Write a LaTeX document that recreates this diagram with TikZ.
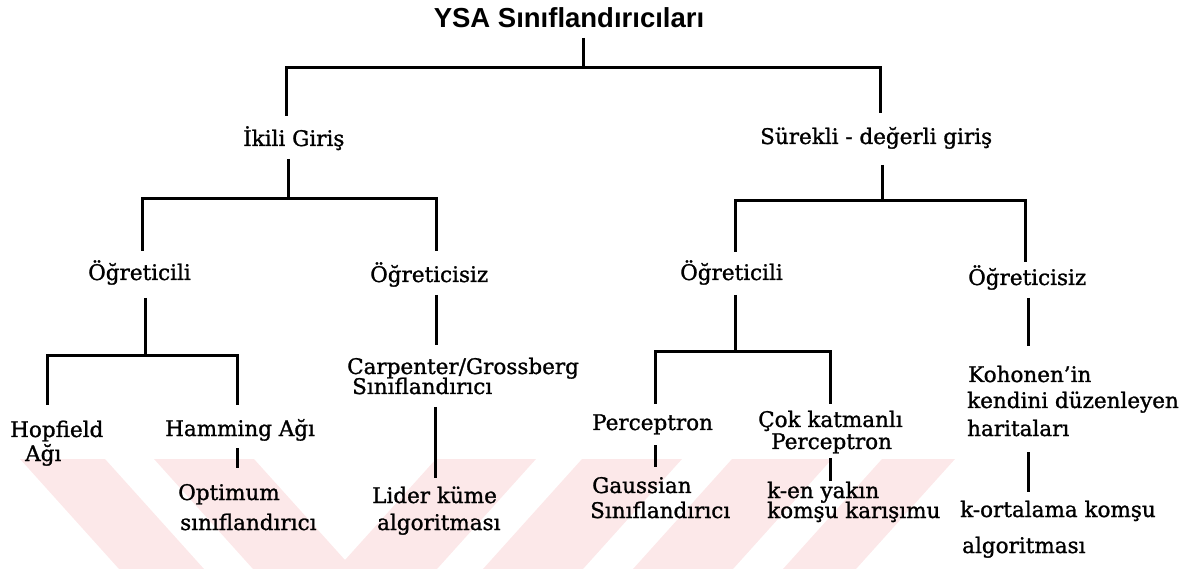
\documentclass[tikz,border=0pt]{standalone}
\usepackage{fontspec}
\setmainfont{DejaVu Serif}[FakeBold=1.2]
\newfontfamily\headfont{Liberation Sans}
\definecolor{wmpink}{RGB}{252,232,233}
\begin{document}
\begin{tikzpicture}[x=1pt,y=-1pt,
  lbl/.style={anchor=base west, inner sep=0pt, font=\fontsize{21.5}{24}\selectfont},
  headlbl/.style={anchor=base, inner sep=0pt, font=\headfont\bfseries\fontsize{27.5}{30}\selectfont},
  conn/.style={line width=3pt},
  band/.style={fill=wmpink, draw=none}]
\useasboundingbox (0,0) rectangle (1195,569);

% faint chevron watermark along the bottom
\fill[band] (20,459) -- (105,459) -- (204,569) -- (119,569) -- cycle;
\fill[band] (154,459) -- (254,459) -- (345,560) -- (436,459) -- (536,459)
  -- (437,569) -- (253,569) -- cycle;
\fill[band] (582,459) -- (682,459) -- (583,569) -- (483,569) -- cycle;
\fill[band] (732,459) -- (832,459) -- (733,569) -- (633,569) -- cycle;
\fill[band] (882,459) -- (955,459) -- (856,569) -- (783,569) -- cycle;

% labels
\node[headlbl] (root) at (569,28) {YSA Sınıflandırıcıları};
\node[lbl] (ikili) at (243,146) {İkili Giriş};
\node[lbl] (surekli) at (760,144) {Sürekli - değerli giriş};
\node[lbl] (ogrL) at (88,280) {Öğreticili};
\node[lbl] (ogrsizL) at (370,282) {Öğreticisiz};
\node[lbl] (ogrR) at (680,280) {Öğreticili};
\node[lbl] (ogrsizR) at (968,285) {Öğreticisiz};
\node[lbl] (carp) at (347,374) {Carpenter/Grossberg};
\node[lbl] (carpB) at (352,394) {Sınıflandırıcı};
\node[lbl] (hop) at (10,437) {Hopfield};
\node[lbl] (hopB) at (25,461) {Ağı};
\node[lbl] (ham) at (165,436) {Hamming Ağı};
\node[lbl] (opt) at (178,500) {Optimum};
\node[lbl] (optB) at (180,530) {sınıflandırıcı};
\node[lbl] (lid) at (372,503) {Lider küme};
\node[lbl] (lidB) at (377,530) {algoritması};
\node[lbl] (per) at (592,430) {Perceptron};
\node[lbl] (cok) at (758,427) {Çok katmanlı};
\node[lbl] (cokB) at (771,449) {Perceptron};
\node[lbl] (gau) at (592,493) {Gaussian};
\node[lbl] (gauB) at (590,518) {Sınıflandırıcı};
\node[lbl] (ken) at (767,498) {k-en yakın};
\node[lbl] (kenB) at (767,518) {komşu karışımu};
\node[lbl] (koh) at (968,382) {Kohonen'in};
\node[lbl] (kohB) at (967,408) {kendini düzenleyen};
\node[lbl] (kohC) at (967,436) {haritaları};
\node[lbl] (kor) at (960,517) {k-ortalama komşu};
\node[lbl] (korB) at (962,553) {algoritması};

% junction points of the tree
\coordinate (rootTop) at (583,38);
\coordinate (rootBar) at (583,68);
\coordinate (ikiliIn) at (286,116);
\coordinate (surekliIn) at (880,113);
\coordinate (ikiliOut) at (288,159);
\coordinate (ikiliBar) at (288,199);
\coordinate (ogrLIn) at (142,251);
\coordinate (ogrsizLIn) at (436,251);
\coordinate (surekliOut) at (882,165);
\coordinate (surekliBar) at (882,201);
\coordinate (ogrRIn) at (735,252);
\coordinate (ogrsizRIn) at (1025,262);
\coordinate (ogrLOut) at (145,298);
\coordinate (ogrLBar) at (145,356);
\coordinate (hopIn) at (47,405);
\coordinate (hamIn) at (237,405);
\coordinate (ogrsizLOut) at (436,295);
\coordinate (carpIn) at (436,345);
\coordinate (carpOut) at (435,407);
\coordinate (lidIn) at (435,478);
\coordinate (hamOut) at (237,448);
\coordinate (optIn) at (237,468);
\coordinate (ogrROut) at (735,295);
\coordinate (ogrRBar) at (735,352);
\coordinate (perIn) at (655,404);
\coordinate (cokIn) at (830,404);
\coordinate (perOut) at (655,445);
\coordinate (gauIn) at (655,467);
\coordinate (cokOut) at (830,458);
\coordinate (kenIn) at (830,481);
\coordinate (ogrsizROut) at (1028,298);
\coordinate (kohIn) at (1028,346);
\coordinate (kohOut) at (1028,452);
\coordinate (korIn) at (1028,492);

% connectors
\draw[conn] (rootTop) -- (rootBar);
\draw[conn] (ikiliIn) |- (rootBar) -| (surekliIn);
\draw[conn] (ikiliOut) -- (ikiliBar);
\draw[conn] (ogrLIn) |- (ikiliBar) -| (ogrsizLIn);
\draw[conn] (surekliOut) -- (surekliBar);
\draw[conn] (ogrRIn) |- (surekliBar) -| (ogrsizRIn);
\draw[conn] (ogrLOut) -- (ogrLBar);
\draw[conn] (hopIn) |- (ogrLBar) -| (hamIn);
\draw[conn] (ogrsizLOut) -- (carpIn);
\draw[conn] (carpOut) -- (lidIn);
\draw[conn] (hamOut) -- (optIn);
\draw[conn] (ogrROut) -- (ogrRBar);
\draw[conn] (perIn) |- (ogrRBar) -| (cokIn);
\draw[conn] (perOut) -- (gauIn);
\draw[conn] (cokOut) -- (kenIn);
\draw[conn] (ogrsizROut) -- (kohIn);
\draw[conn] (kohOut) -- (korIn);
\end{tikzpicture}
\end{document}
